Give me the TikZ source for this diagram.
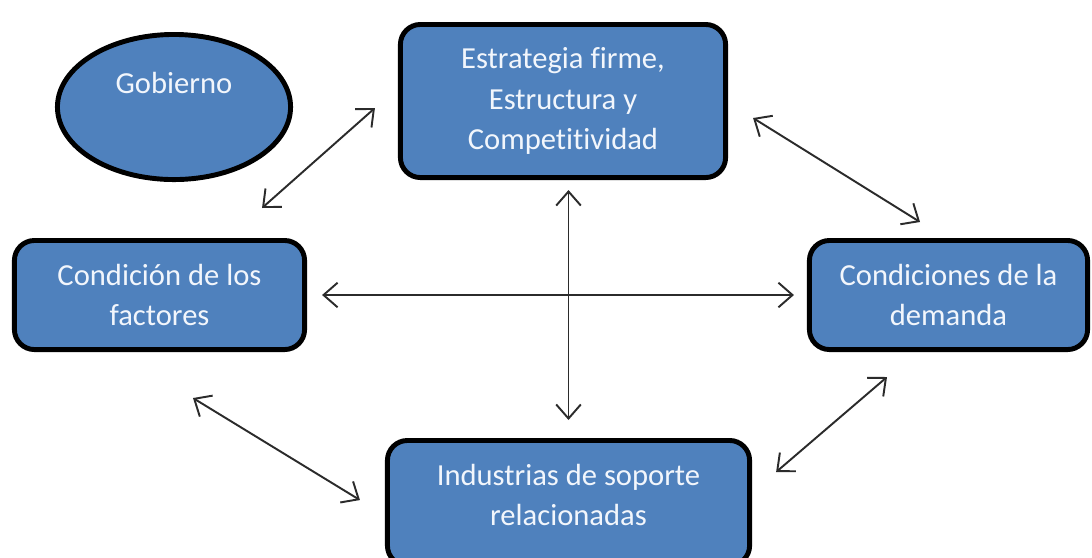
\documentclass[tikz,border=0pt]{standalone}
\usepackage{fontspec}
\setmainfont{Carlito}[Ligatures={NoCommon,NoRare}]
\usetikzlibrary{arrows.meta,shapes.geometric}
\definecolor{cajaazul}{HTML}{4F81BD}
\definecolor{textoclaro}{HTML}{F2F6FC}
\definecolor{flecha}{HTML}{2B2B2B}
\tikzset{
  caja/.style={draw=black, line width=1.4pt, rounded corners=0.2cm, fill=cajaazul,
    text=textoclaro, align=center, font=\fontsize{8.7}{11.4}\selectfont, inner sep=0pt},
  elipse/.style={draw=black, line width=1.4pt, ellipse, fill=cajaazul, inner sep=0pt},
  texto/.style={text=textoclaro, align=center, font=\fontsize{8.7}{11.4}\selectfont},
  enlace/.style={{Straight Barb[length=4pt,width=7pt]}-{Straight Barb[length=4pt,width=7pt]},
    flecha, line width=0.55pt}
}
\begin{document}
\begin{tikzpicture}[x=0.01cm, y=-0.01cm]
        \useasboundingbox (0,0) rectangle (1092,557);
        % Gobierno
        \node[elipse, minimum width=2.33cm, minimum height=1.45cm] (gob) at (174,107) {};
        \node[texto] (gobtxt) at (174,83) {Gobierno};

        % Cajas
        \node[caja, minimum width=3.25cm, minimum height=1.53cm] (est) at (563,101) {Estrategia firme,\\Estructura y\\Competitividad};
        \node[caja, minimum width=2.90cm, minimum height=1.09cm] (fac) at (159.5,295) {Condición de los\\factores};
        \node[caja, minimum width=2.78cm, minimum height=1.09cm] (dem) at (948.5,295) {Condiciones de la\\demanda};
        \node[caja, minimum width=3.62cm, minimum height=1.25cm] (ind) at (568.5,503) {};
        \node[texto] (indtxt) at (568.5,495) {Industrias de soporte\\relacionadas};

        % Extremos de las flechas diagonales
        \coordinate (a1) at ([xshift=-0.45cm, yshift=0.30cm]fac.north east);
        \coordinate (a2) at ([xshift=-0.23cm, yshift=-0.07cm]est.west);
        \coordinate (b1) at ([xshift=0.25cm, yshift=-0.17cm]est.east);
        \coordinate (b2) at ([xshift=1.13cm, yshift=0.16cm]dem.north west);
        \coordinate (c1) at ([xshift=-1.14cm, yshift=-0.46cm]fac.south east);
        \coordinate (c2) at ([xshift=-0.25cm, yshift=-0.62cm]ind.north west);
        \coordinate (d1) at ([xshift=0.80cm, yshift=-0.25cm]dem.south west);
        \coordinate (d2) at ([xshift=0.24cm, yshift=-0.34cm]ind.north east);

        % Flechas
        \draw[enlace] (a1) -- (a2);
        \draw[enlace] (b1) -- (b2);
        \draw[enlace] (c1) -- (c2);
        \draw[enlace] (d1) -- (d2);
        \draw[enlace, shorten <=0.15cm, shorten >=0.13cm] (fac.east) -- (dem.west);
        \draw[enlace, shorten <=0.10cm, shorten >=0.18cm] (ind.north |- est.south) -- (ind.north);
    \end{tikzpicture}
\end{document}
